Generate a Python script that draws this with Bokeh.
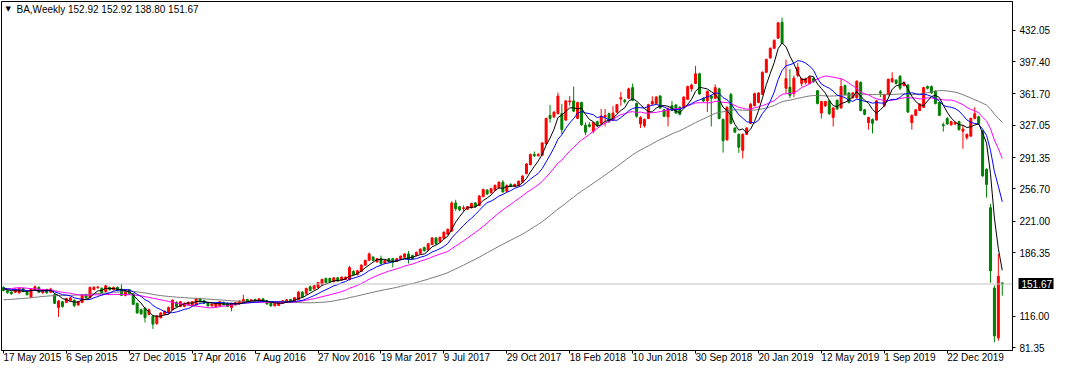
import numpy as np
from bokeh.plotting import figure
from bokeh.models import (Range1d, LinearAxis, FixedTicker, PrintfTickFormatter,
                          Span, Label, ColumnDataSource)
from bokeh.embed import file_html
from bokeh.resources import INLINE

symbol = "BA"
timeframe = "Weekly"

date_labels = ["17 May 2015", "6 Sep 2015", "27 Dec 2015", "17 Apr 2016", "7 Aug 2016",
               "27 Nov 2016", "19 Mar 2017", "9 Jul 2017", "29 Oct 2017", "18 Feb 2018",
               "10 Jun 2018", "30 Sep 2018", "20 Jan 2019", "12 May 2019", "1 Sep 2019",
               "22 Dec 2019"]
date_label_bars = [0, 16, 32, 48, 64, 80, 96, 112, 128, 144, 160, 176, 192, 208, 224, 240]
y_ticks = [81.35, 116.00, 186.35, 221.00, 256.70, 291.35, 327.05, 361.70, 397.40, 432.05]

# weekly closes before the first visible bar (feed the moving averages)
prior_closes = [133, 131, 130, 128, 126, 127, 124, 121, 120, 121, 124, 126, 128, 127, 128, 127,
                127, 121, 120, 124, 126, 128, 130, 133, 134, 130, 126, 127, 131, 130, 128, 130,
                132, 142, 146, 150, 153, 154, 151, 149, 150, 148, 150, 148, 145, 146, 147, 146, 148]

opens = [147.9, 144.4, 142.6, 142.6, 141.9, 146.8, 142.6, 137.3, 145.4, 147.9,
         141.9, 145.4, 142.6, 139.8, 125.7, 132.0, 131.3, 133.5, 133.8, 128.5,
         131.3, 139.8, 136.6, 145.4, 147.5, 146.8, 143.3, 147.9, 145.4, 147.9,
         146.1, 139.1, 145.4, 140.8, 130.3, 123.2, 125.0, 118.0, 116.2, 108.1,
         114.5, 118.0, 119.7, 123.2, 131.3, 126.8, 126.8, 128.5, 128.5, 128.5,
         135.6, 133.1, 131.0, 127.5, 126.8, 127.5, 131.0, 130.3, 125.7, 128.5,
         129.6, 131.0, 134.5, 132.0, 134.5, 132.7, 135.2, 133.1, 130.3, 127.5,
         128.0, 130.3, 131.3, 134.5, 132.0, 134.5, 142.6, 140.8, 148.6, 146.1,
         147.9, 151.4, 157.8, 157.8, 154.2, 158.5, 156.0, 156.7, 156.7, 165.5,
         162.0, 165.5, 172.5, 177.8, 181.3, 176.1, 179.6, 174.3, 179.6, 179.6,
         176.8, 179.6, 181.3, 184.9, 183.1, 183.1, 185.6, 191.9, 189.1, 195.4,
         202.5, 198.2, 201.8, 206.7, 210.2, 241.2, 237.0, 234.9, 234.2, 235.9,
         241.2, 238.4, 248.2, 255.3, 252.5, 255.3, 258.1, 264.1, 254.2, 261.6,
         259.5, 260.6, 264.1, 273.6, 283.5, 294.7, 293.3, 294.0, 306.3, 338.0,
         336.3, 339.8, 339.8, 332.7, 352.8, 353.9, 334.5, 352.1, 327.0, 327.5,
         320.4, 331.0, 329.2, 336.3, 339.8, 332.7, 341.5, 356.0, 354.6, 356.7,
         368.6, 351.1, 328.5, 326.4, 334.5, 350.4, 351.1, 359.2, 344.0, 336.3,
         348.6, 349.3, 346.8, 346.8, 355.6, 367.2, 373.2, 383.8, 356.7, 353.9,
         359.2, 356.7, 367.2, 333.4, 310.9, 360.9, 323.9, 316.9, 299.3, 316.9,
         329.2, 348.6, 352.1, 361.1, 385.5, 401.4, 412.0, 423.2, 440.8, 367.9,
         369.0, 362.0, 382.0, 373.2, 374.3, 373.2, 378.5, 365.1, 340.5, 348.6,
         353.9, 335.6, 354.6, 346.1, 370.8, 362.7, 357.4, 357.4, 374.3, 344.0,
         329.9, 333.4, 332.8, 364.0, 348.6, 360.9, 375.0, 376.8, 381.0, 370.8,
         371.5, 329.9, 338.0, 343.3, 346.8, 369.7, 369.7, 364.4, 352.1, 327.5,
         334.5, 327.5, 328.5, 331.0, 320.4, 313.4, 315.1, 334.5, 336.3, 320.4,
         278.2, 235.9, 147.2, 92.2, 152.92]

highs = [149.0, 145.5, 143.5, 147.0, 148.0, 147.5, 143.5, 147.0, 150.0, 149.0,
         145.5, 146.5, 147.5, 141.0, 134.0, 133.0, 136.5, 137.5, 134.5, 133.0,
         140.5, 141.0, 148.8, 149.5, 149.5, 148.0, 150.5, 148.8, 148.8, 149.0,
         151.4, 145.5, 146.0, 141.5, 131.0, 124.5, 126.0, 124.5, 117.5, 117.5,
         120.5, 122.5, 126.8, 134.5, 132.5, 133.0, 131.5, 132.5, 133.0, 136.5,
         136.5, 134.0, 131.8, 130.5, 131.0, 132.7, 132.5, 131.0, 131.0, 132.0,
         133.5, 139.8, 135.5, 135.0, 135.5, 136.0, 136.0, 133.8, 131.0, 131.0,
         132.5, 133.8, 135.0, 135.2, 137.3, 144.0, 144.0, 147.5, 150.0, 150.5,
         154.0, 157.5, 158.5, 158.8, 159.2, 159.5, 160.0, 160.0, 171.5, 167.0,
         167.0, 173.5, 178.5, 186.5, 182.5, 180.5, 183.0, 178.5, 180.5, 180.5,
         180.3, 183.0, 185.5, 188.0, 184.0, 187.5, 191.0, 193.0, 197.0, 203.5,
         203.5, 204.0, 209.8, 213.0, 243.0, 244.7, 238.0, 238.4, 238.0, 241.5,
         242.2, 249.9, 257.0, 256.5, 258.0, 261.5, 265.0, 266.5, 261.5, 263.0,
         262.5, 266.0, 271.8, 285.2, 295.7, 298.0, 296.5, 308.4, 335.5, 349.6,
         342.5, 363.0, 350.4, 355.0, 359.2, 369.7, 353.0, 353.0, 330.0, 330.5,
         330.9, 332.0, 345.1, 345.0, 341.0, 348.0, 350.7, 363.7, 356.0, 368.5,
         373.0, 352.0, 337.0, 334.5, 350.7, 359.0, 359.2, 360.5, 345.0, 346.5,
         353.9, 350.5, 348.0, 359.0, 370.8, 373.0, 392.6, 385.0, 358.0, 365.5,
         361.0, 372.2, 368.5, 334.5, 348.0, 363.0, 325.0, 318.0, 318.0, 325.0,
         351.5, 363.0, 363.5, 386.5, 400.6, 413.0, 421.8, 441.0, 446.0, 399.6,
         389.0, 382.0, 396.0, 379.5, 379.5, 381.3, 380.0, 366.0, 354.0, 354.0,
         355.0, 347.0, 355.5, 378.5, 372.0, 363.5, 363.5, 376.5, 375.5, 345.0,
         336.5, 334.5, 355.0, 366.0, 361.8, 378.5, 385.6, 378.0, 382.5, 375.5,
         372.5, 338.8, 345.0, 351.3, 369.6, 371.0, 371.0, 365.5, 353.0, 330.0,
         336.0, 332.0, 331.0, 332.0, 327.5, 318.0, 335.5, 346.8, 337.5, 321.5,
         279.5, 240.0, 150.0, 184.9, 152.92]

lows = [143.5, 141.0, 139.8, 141.8, 141.0, 142.5, 139.0, 136.5, 144.5, 141.8,
        141.0, 141.0, 141.8, 129.5, 115.4, 125.5, 130.5, 132.5, 126.1, 127.5,
        130.5, 135.5, 136.0, 144.8, 146.5, 141.0, 142.5, 144.5, 144.8, 143.5,
        138.5, 138.0, 140.0, 128.5, 118.8, 117.5, 109.2, 117.0, 102.1, 106.5,
        113.5, 117.0, 119.0, 122.5, 125.8, 126.0, 126.0, 128.0, 127.5, 128.0,
        131.3, 129.5, 126.8, 126.5, 126.0, 127.0, 128.0, 126.0, 121.5, 128.0,
        129.0, 130.5, 131.3, 131.3, 132.0, 132.0, 131.5, 128.8, 126.8, 127.0,
        127.5, 129.8, 130.8, 131.3, 131.5, 134.0, 136.5, 140.0, 143.5, 145.5,
        147.0, 150.5, 152.5, 153.5, 153.5, 154.2, 155.3, 156.0, 155.5, 161.0,
        161.0, 164.8, 171.8, 177.0, 177.0, 175.3, 172.5, 173.5, 175.0, 170.0,
        176.0, 178.8, 180.5, 174.3, 178.8, 182.3, 184.8, 187.5, 188.3, 194.6,
        195.3, 197.4, 201.0, 206.0, 209.0, 232.4, 232.0, 231.4, 233.4, 235.0,
        236.0, 237.6, 247.4, 250.0, 251.7, 254.5, 257.3, 252.5, 253.4, 258.5,
        258.6, 259.8, 263.3, 272.8, 282.7, 292.0, 292.5, 293.2, 305.5, 329.9,
        335.0, 339.0, 316.9, 331.9, 348.6, 341.8, 333.7, 326.5, 316.0, 324.5,
        318.0, 325.5, 327.0, 325.7, 329.5, 331.9, 340.7, 348.6, 351.0, 355.9,
        353.6, 335.5, 324.0, 324.5, 333.7, 349.6, 350.3, 345.0, 336.0, 325.7,
        342.5, 339.5, 338.0, 346.0, 354.8, 364.0, 372.4, 360.5, 352.5, 341.5,
        325.7, 355.9, 333.5, 296.8, 310.0, 328.0, 318.5, 296.5, 290.5, 316.0,
        328.4, 347.8, 351.3, 360.3, 384.7, 400.6, 411.2, 422.4, 416.5, 362.5,
        357.0, 358.0, 380.0, 370.0, 372.0, 372.0, 374.0, 350.0, 334.5, 347.0,
        338.5, 325.7, 344.0, 345.3, 360.0, 351.0, 356.5, 356.5, 342.5, 338.0,
        322.2, 318.0, 332.0, 358.0, 347.5, 360.0, 374.0, 372.0, 366.0, 370.0,
        340.5, 322.2, 337.0, 342.5, 346.0, 366.5, 361.5, 350.0, 337.0, 320.0,
        327.5, 326.5, 327.0, 321.0, 301.1, 311.0, 314.0, 333.5, 328.0, 270.0,
        247.0, 153.0, 87.4, 89.0, 138.80]

closes = [144.4, 142.0, 140.8, 146.1, 146.8, 143.3, 139.8, 146.1, 148.6, 142.6,
          144.4, 141.9, 146.1, 130.3, 132.8, 126.8, 135.6, 136.3, 127.8, 132.0,
          139.8, 136.3, 147.9, 147.9, 148.2, 141.9, 149.7, 145.4, 147.9, 144.4,
          139.1, 144.4, 140.8, 129.2, 119.7, 118.7, 114.5, 123.2, 107.4, 116.2,
          119.7, 121.5, 125.7, 133.8, 126.8, 132.0, 130.3, 131.3, 132.0, 135.6,
          132.0, 130.3, 127.5, 129.6, 130.3, 132.0, 128.5, 126.8, 130.3, 131.0,
          132.7, 134.5, 132.0, 134.2, 132.7, 135.2, 132.0, 129.6, 127.5, 130.3,
          132.0, 133.1, 134.2, 132.0, 136.6, 142.6, 137.3, 146.8, 144.4, 149.7,
          153.2, 156.7, 153.2, 154.2, 158.5, 154.9, 159.2, 159.2, 169.7, 162.0,
          166.2, 172.5, 177.8, 184.9, 177.8, 179.6, 174.3, 177.8, 176.1, 175.4,
          179.6, 182.5, 184.9, 179.6, 179.6, 186.6, 190.1, 188.4, 196.1, 202.5,
          196.1, 203.2, 208.8, 212.0, 241.2, 234.9, 233.5, 235.9, 237.0, 240.5,
          237.0, 248.9, 256.0, 251.1, 257.0, 260.6, 264.1, 253.5, 260.6, 259.5,
          261.6, 265.1, 270.8, 284.2, 294.7, 293.3, 294.7, 307.4, 334.5, 334.5,
          341.5, 359.2, 322.2, 353.9, 353.9, 342.6, 352.1, 327.5, 319.4, 325.7,
          329.9, 326.4, 337.0, 337.7, 331.0, 340.5, 349.7, 357.4, 353.2, 367.2,
          354.6, 337.0, 335.6, 333.4, 349.7, 353.2, 358.1, 346.1, 337.0, 345.1,
          343.3, 340.5, 339.1, 358.1, 369.7, 371.5, 383.8, 361.6, 353.9, 364.4,
          356.7, 368.6, 334.5, 309.9, 346.8, 329.2, 319.4, 302.8, 316.9, 323.9,
          350.3, 361.9, 362.6, 385.5, 399.6, 412.0, 420.8, 440.1, 417.3, 378.5,
          360.0, 379.0, 391.0, 378.5, 378.5, 380.3, 375.0, 351.1, 353.2, 353.2,
          339.8, 346.1, 345.1, 369.7, 360.9, 352.1, 362.7, 375.7, 343.3, 339.1,
          335.6, 329.2, 353.9, 362.5, 360.9, 377.8, 378.5, 373.2, 368.0, 374.3,
          341.6, 338.0, 344.0, 350.4, 368.6, 367.9, 362.7, 351.1, 338.0, 326.4,
          328.5, 331.0, 329.9, 322.2, 322.9, 316.9, 334.5, 339.8, 329.2, 271.1,
          261.6, 166.2, 94.3, 160.2, 151.67]

n = len(closes)
idx = np.arange(n)
all_c = np.array(prior_closes + closes, dtype=float)


def sma(period):
    full = np.convolve(all_c, np.ones(period) / period, mode="valid")
    off = len(prior_closes) - period + 1
    return full[off:off + n]


o = np.array(opens)
c = np.array(closes)
colors = ["#FF0000" if cc > oo else "#008000" for oo, cc in zip(o, c)]
src = ColumnDataSource(dict(x=idx, o=o, h=np.array(highs), l=np.array(lows), c=c,
                            top=np.maximum(o, c), bot=np.minimum(o, c), col=colors))

FONT = "Liberation Sans"

p = figure(width=1055, height=371, output_backend="svg", toolbar_location=None,
           x_range=Range1d(-0.5, 256.6), y_range=Range1d(78.2, 463.7),
           x_axis_location=None, y_axis_location=None,
           min_border=0, min_border_left=1, min_border_top=1,
           min_border_right=38, min_border_bottom=20)
p.grid.visible = False
p.outline_line_color = "black"
p.outline_line_width = 1
p.background_fill_color = "white"
p.border_fill_color = "white"

# current price line
p.add_layout(Span(location=closes[-1], dimension="width", line_color="#C0C0C0", line_width=1))

# candles
p.segment(x0="x", y0="l", x1="x", y1="h", color="col", line_width=1, source=src)
p.vbar(x="x", width=0.5, top="top", bottom="bot", fill_color="col", line_color="col",
       line_width=1, source=src)

# moving averages
p.line(idx, sma(50), line_color="#7A7A7A", line_width=1)
p.line(idx, sma(20), line_color="#FF00FF", line_width=1)
p.line(idx, sma(10), line_color="#0000FF", line_width=1)
p.line(idx, sma(5), line_color="#000000", line_width=1)

# right price axis
yax = LinearAxis(ticker=FixedTicker(ticks=y_ticks), formatter=PrintfTickFormatter(format="%.2f"))
yax.major_tick_out = 3
yax.major_tick_in = 0
yax.minor_tick_out = 0
yax.minor_tick_in = 0
yax.axis_line_color = "black"
yax.major_tick_line_color = "black"
yax.major_label_standoff = 4
yax.major_label_text_font = FONT
yax.major_label_text_font_size = "10px"
yax.major_label_text_color = "black"
p.add_layout(yax, "right")

# current price tag (black box + white text) as an outer axis
tax = LinearAxis(ticker=FixedTicker(ticks=[closes[-1]]),
                 formatter=PrintfTickFormatter(format="%.2f"))
tax.axis_line_color = None
tax.minor_tick_out = 0
tax.minor_tick_in = 0
tax.major_tick_out = 0
tax.major_tick_in = 35
tax.major_tick_line_color = "black"
tax.major_tick_line_width = 11
tax.major_tick_line_cap = "butt"
tax.major_label_standoff = -32
tax.major_label_text_font = FONT
tax.major_label_text_font_size = "10px"
tax.major_label_text_color = "white"
p.add_layout(tax, "right")

# bottom time axis, labels starting at the tick
xax = LinearAxis(ticker=FixedTicker(ticks=date_label_bars),
                 major_label_overrides={b: t for b, t in zip(date_label_bars, date_labels)})
xax.major_tick_out = 3
xax.major_tick_in = 0
xax.minor_tick_out = 0
xax.minor_tick_in = 0
xax.axis_line_color = "black"
xax.major_tick_line_color = "black"
xax.major_label_orientation = -0.0001
xax.major_label_standoff = 4
xax.major_label_text_font = FONT
xax.major_label_text_font_size = "10px"
xax.major_label_text_color = "black"
p.add_layout(xax, "below")

# header
p.add_layout(Label(x=4, y=460.0, x_units="screen", text="\u25BC", text_align="left",
                   text_baseline="top", text_font="DejaVu Sans",
                   text_font_size="7px", text_color="black"))
p.add_layout(Label(x=15, y=461.0, x_units="screen",
                   text=f"{symbol},{timeframe}  {opens[-1]:.2f} {highs[-1]:.2f} {lows[-1]:.2f} {closes[-1]:.2f}",
                   text_align="left", text_baseline="top", text_font=FONT,
                   text_font_size="10px", text_color="black"))

open("out.html", "w").write(file_html(p, INLINE))
